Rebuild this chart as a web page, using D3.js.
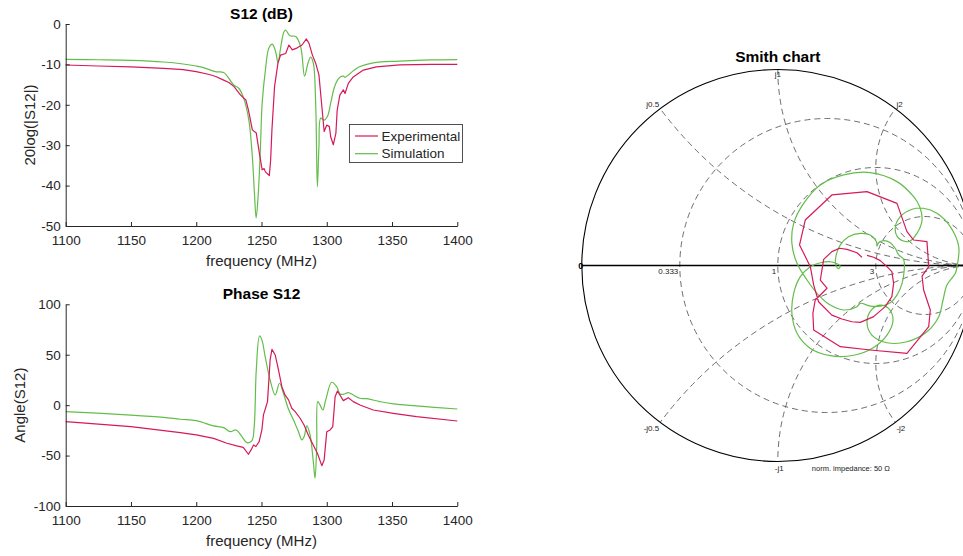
<!DOCTYPE html>
<html><head><meta charset="utf-8">
<script src="https://cdn.jsdelivr.net/npm/d3@7"></script>
<style>
body{margin:0;background:#fff}
svg{display:block}
text{font-family:"Liberation Sans",Arial,Helvetica,sans-serif}
</style>
</head><body>
<svg id="c" width="963" height="556"></svg>
<script>
// ---------------- data ----------------
const freqTicks = [1100, 1150, 1200, 1250, 1300, 1350, 1400];
const magTicks = [-50, -40, -30, -20, -10, 0];
const phaseTicks = [-100, -50, 0, 50, 100];
const seriesNames = ["Experimental", "Simulation"];
const seriesColors = ["#d6195a", "#63bd4a"];

// S12 magnitude (dB)
const expMagFreq = [1100,1125,1150,1175,1190,1200,1210,1215,1221,1225,1229,1234,1238,1240,1243,1246,1248,1250.5,1252,1253,1256,1257,1258,1260,1262.6,1264.6,1268.5,1271,1273.6,1277.4,1281,1284.4,1286.4,1289,1291.5,1294,1296,1298,1300,1302,1303,1305,1307,1308,1310,1312.7,1314,1316.5,1320,1328,1338,1356,1380,1400];
const expMag = [-10.15,-10.4,-10.6,-11,-11.3,-11.8,-12.5,-13,-13.9,-14.5,-15.5,-17.6,-18.8,-21.3,-26.2,-27,-31.2,-36.1,-35.8,-36.6,-37.5,-33.7,-26.2,-15.5,-9.7,-7.7,-7.3,-5.2,-6.4,-5.9,-5.2,-3.7,-4.8,-7.7,-9.7,-12.6,-19.6,-26.6,-25,-25.4,-27.9,-29.9,-27,-21.3,-17.6,-16.3,-17.2,-14.7,-13.2,-11.4,-10.6,-10.1,-10,-10];
const simMagFreq = [1100,1125,1150,1175,1190,1200,1205.6,1214.6,1221,1228.7,1232.6,1236.4,1240.3,1242.8,1244.6,1245.9,1247.4,1249.2,1250.5,1253,1255.6,1258.2,1260.8,1262.6,1264.6,1267.2,1268.5,1271.8,1276.2,1280,1283,1285.6,1287.7,1289.7,1291.5,1292.8,1294,1295.4,1298,1300.5,1303,1305.6,1308.2,1310.8,1312.7,1314,1320.3,1325,1335.6,1356,1380,1400];
const simMag = [-8.75,-8.85,-9.0,-9.4,-9.9,-10.4,-10.8,-11.8,-12,-15.1,-15.9,-18.4,-23.8,-32,-41.9,-48,-42.7,-30.4,-19.6,-11.4,-6,-5,-6.8,-9.6,-6,-1.9,-1.5,-2.9,-3.1,-5.6,-12.9,-9.7,-8.2,-9.7,-19.6,-40.3,-30.4,-23.3,-23.8,-22.9,-19.6,-15.9,-13.9,-13,-12.9,-13.2,-11.6,-10.6,-9.6,-9.2,-8.9,-8.8];

// S12 phase (deg)
const expPhFreq = [1100,1150,1187.8,1200,1213.3,1223.5,1231,1236,1240,1242,1243.9,1245.7,1248.2,1250.3,1251.5,1253.6,1254.6,1256.6,1258,1260.5,1263,1265.6,1268,1270.7,1273.2,1275.8,1279.6,1282.7,1286,1289.8,1292.9,1296.2,1298,1300,1302.6,1304.6,1306.4,1308.2,1312.7,1316.5,1320.3,1325.4,1335.6,1351,1368.8,1400];
const expPh = [-16.4,-21.3,-27.2,-29.5,-32.9,-37.8,-40.4,-41.8,-48.7,-44.4,-39.5,-41,-36.2,-24.6,-9.7,-0.8,3.5,44.8,55.4,49.8,34.9,18.3,10.1,5.2,-3.1,-6.4,-13,-20,-30,-40,-48,-60,-54.3,-26.3,-24.6,-21.3,8.4,14,4.5,7.4,3.5,0.2,-4.8,-8.1,-11.4,-15.7];
const simPhFreq = [1100,1150,1175,1187.8,1200,1213.3,1221,1226,1230.6,1235,1238.8,1242.6,1244.4,1246,1248.5,1250.3,1252.8,1256.6,1260.5,1263.8,1266.8,1270.7,1274.5,1278.3,1280.9,1282.7,1284.7,1287.2,1289.8,1291,1292.3,1293.1,1294.9,1297,1299.2,1303.8,1307.6,1310.2,1312.7,1316.5,1320.3,1325.4,1330.5,1340.7,1351,1368.8,1400];
const simPh = [-6.4,-9.8,-12.1,-14,-15.4,-20.6,-22.3,-26.3,-24.6,-31.2,-37.2,-35.2,-21.3,34.9,68.6,64.7,48.1,25,10.1,21.7,11.8,-4.1,-14.7,-26.3,-34.5,-31.2,-20.6,-29.5,-57.6,-72.5,-41.1,3.5,0,-4.8,5.2,22.7,18.3,11.1,10.7,12.4,10.1,6.8,6.4,3.5,1.2,-0.8,-3.8];

// Smith chart traces (reflection coefficient, real / imaginary)
const expGre = [0.429,0.404,0.353,0.315,0.276,0.234,0.217,0.251,0.191,0.179,0.183,0.319,0.472,0.659,0.770,0.778,0.744,0.736,0.770,0.761,0.693,0.659,0.608,0.455,0.276,0.140,0.111,0.166,0.183,0.208,0.276,0.327,0.378,0.421,0.489,0.548,0.582,0.591,0.582,0.557,0.523,0.489,0.455];
const expGim = [0.042,0.065,0.082,0.088,0.071,0.031,-0.074,-0.116,-0.176,-0.244,-0.329,-0.414,-0.431,-0.448,-0.312,-0.227,-0.125,-0.054,-0.006,0.122,0.130,0.173,0.317,0.377,0.360,0.232,0.105,-0.006,-0.099,-0.185,-0.253,-0.273,-0.287,-0.290,-0.261,-0.210,-0.159,-0.091,-0.031,-0.006,0.025,0.042,0.052];
const simGre = [0.914,0.923,0.880,0.812,0.744,0.685,0.625,0.599,0.617,0.668,0.710,0.736,0.724,0.693,0.608,0.472,0.336,0.217,0.132,0.081,0.072,0.098,0.149,0.208,0.268,0.336,0.404,0.421,0.472,0.523,0.574,0.608,0.634,0.645,0.642,0.617,0.599,0.574,0.540,0.514,0.506,0.503,0.472,0.421,0.361,0.319,0.298,0.295,0.309,0.319,0.276,0.217,0.166,0.115,0.081,0.072,0.098,0.166,0.268,0.387,0.489,0.557,0.588,0.565,0.523,0.480,0.455,0.480,0.557,0.659,0.761,0.821,0.843,0.863,0.906,0.914];
const simGim = [-0.006,0.096,0.198,0.266,0.292,0.287,0.249,0.190,0.139,0.122,0.164,0.232,0.300,0.351,0.428,0.474,0.462,0.411,0.317,0.215,0.113,0.011,-0.074,-0.151,-0.202,-0.227,-0.210,-0.193,-0.207,-0.207,-0.190,-0.151,-0.091,-0.023,0.031,0.054,0.088,0.116,0.127,0.116,0.099,0.122,0.156,0.164,0.147,0.105,0.054,0.008,-0.016,-0.003,0.018,0.014,-0.006,-0.057,-0.142,-0.244,-0.346,-0.423,-0.460,-0.458,-0.418,-0.355,-0.278,-0.219,-0.202,-0.224,-0.287,-0.355,-0.394,-0.389,-0.338,-0.261,-0.176,-0.099,-0.040,-0.006];

// Smith grid
const resistanceValues = [1/3, 1, 3];
const resistanceLabels = ["0.333", "1", "3"];
const reactanceValues = [0.5, 1, 2, -0.5, -1, -2];
const reactanceLabels = ["j0.5", "j1", "j2", "-j0.5", "-j1", "-j2"];

// ---------------- drawing ----------------
const svg = d3.select("#c");
const ink = "#262626";

const x = d3.scaleLinear().domain([1100, 1400]).range([65.7, 457.3]);
const yMag = d3.scaleLinear().domain([-50, 0]).range([226, 24]);
const yPh = d3.scaleLinear().domain([-100, 100]).range([506, 304.3]);

function axes(g, y, yt, xTitle, yTitle, title, yBase, yLabelX) {
  const ax = g.append("g").attr("transform", `translate(0,${y.range()[0]})`)
    .call(d3.axisBottom(x).tickValues(freqTicks).tickSizeInner(-4).tickSizeOuter(0).tickPadding(9).tickFormat(d3.format("d")));
  const ay = g.append("g").attr("transform", `translate(${x.range()[0]},0)`)
    .call(d3.axisLeft(y).tickValues(yt).tickSizeInner(-4).tickSizeOuter(0).tickPadding(5).tickFormat(d => String(d)));
  [ax, ay].forEach(a => {
    a.select(".domain").attr("stroke", ink).attr("stroke-width", 1);
    a.selectAll(".tick line").attr("stroke", ink).attr("stroke-width", 1);
    a.selectAll("text").attr("fill", ink).style("font-size", "13.5px");
  });
  g.append("text").attr("x", (x.range()[0] + x.range()[1]) / 2).attr("y", yBase + 248)
    .attr("text-anchor", "middle").attr("fill", ink).style("font-size", "15px").text(xTitle);
  g.append("text").attr("x", (x.range()[0] + x.range()[1]) / 2).attr("y", yBase + 0.5)
    .attr("text-anchor", "middle").attr("fill", "#000").style("font-size", "15.5px").style("font-weight", "bold").text(title);
  const mid = (y.range()[0] + y.range()[1]) / 2;
  g.append("text").attr("transform", `translate(${yLabelX},${mid}) rotate(-90)`).attr("dy", "0.35em")
    .attr("text-anchor", "middle").attr("fill", ink).style("font-size", "15px").text(yTitle);
}

function series(g, y, fx, fy, color, curve) {
  const line = d3.line().x(d => x(d[0])).y(d => y(d[1])).curve(curve);
  g.append("path").datum(d3.zip(fx, fy)).attr("d", line)
    .attr("fill", "none").attr("stroke", color).attr("stroke-width", 1.2).attr("stroke-linejoin", "round");
}

const gTop = svg.append("g");
series(gTop, yMag, simMagFreq, simMag, seriesColors[1], d3.curveCatmullRom.alpha(0.5));
series(gTop, yMag, expMagFreq, expMag, seriesColors[0], d3.curveLinear);
axes(gTop, yMag, magTicks, "frequency (MHz)", "20log(|S12|)", "S12 (dB)", 18, 30);

// legend
const lg = gTop.append("g");
lg.append("rect").attr("x", 349.5).attr("y", 124.5).attr("width", 113).attr("height", 38)
  .attr("fill", "#fff").attr("stroke", ink).attr("stroke-width", 0.8);
seriesNames.forEach((n, i) => {
  const yy = 136 + i * 17.7;
  lg.append("line").attr("x1", 355).attr("x2", 378).attr("y1", yy).attr("y2", yy)
    .attr("stroke", seriesColors[i]).attr("stroke-width", 1.2);
  lg.append("text").attr("x", 381.5).attr("y", yy).attr("dy", "0.35em").attr("fill", ink)
    .style("font-size", "13.5px").text(n);
});

const gBot = svg.append("g");
series(gBot, yPh, simPhFreq, simPh, seriesColors[1], d3.curveCatmullRom.alpha(0.5));
series(gBot, yPh, expPhFreq, expPh, seriesColors[0], d3.curveLinear);
axes(gBot, yPh, phaseTicks, "frequency (MHz)", "Angle(S12)", "Phase S12", 298, 20);

// ---------------- Smith chart ----------------
const R = 196, cx = 777.8, cy = 265.5;
const sx = d3.scaleLinear().domain([-1, 1]).range([cx - R, cx + R]);
const sy = d3.scaleLinear().domain([-1, 1]).range([cy + R, cy - R]);
const gS = svg.append("g");
const defs = svg.append("defs");
defs.append("clipPath").attr("id", "unit").append("circle")
  .attr("cx", sx(0)).attr("cy", sy(0)).attr("r", sx(1) - sx(0));

const grid = gS.append("g").attr("clip-path", "url(#unit)")
  .attr("fill", "none").attr("stroke", "#4a4a4a").attr("stroke-width", 0.8).attr("stroke-dasharray", "6,4");
resistanceValues.forEach(r => {
  grid.append("circle").attr("cx", sx(r / (r + 1))).attr("cy", sy(0)).attr("r", (sx(1) - sx(0)) / (r + 1));
});
reactanceValues.forEach(v => {
  grid.append("circle").attr("cx", sx(1)).attr("cy", sy(1 / v)).attr("r", Math.abs(sy(0) - sy(1 / v)));
});

// outer circle and real axis
gS.append("circle").attr("cx", sx(0)).attr("cy", sy(0)).attr("r", sx(1) - sx(0))
  .attr("fill", "none").attr("stroke", "#000").attr("stroke-width", 1.1);
gS.append("line").attr("x1", sx(-1)).attr("x2", sx(1)).attr("y1", sy(0)).attr("y2", sy(0))
  .attr("stroke", "#000").attr("stroke-width", 1.4);

// traces
const sLineLin = d3.line().x(d => sx(d[0])).y(d => sy(d[1]));
const sLineSm = d3.line().x(d => sx(d[0])).y(d => sy(d[1])).curve(d3.curveCatmullRom.alpha(0.5));
gS.append("path").datum(d3.zip(simGre, simGim)).attr("d", sLineSm)
  .attr("fill", "none").attr("stroke", seriesColors[1]).attr("stroke-width", 1.2);
gS.append("path").datum(d3.zip(expGre, expGim)).attr("d", sLineLin)
  .attr("fill", "none").attr("stroke", seriesColors[0]).attr("stroke-width", 1.2).attr("stroke-linejoin", "round");

// labels
const lab = gS.append("g").attr("fill", "#222").style("font-size", "8px");
resistanceValues.forEach((r, i) => {
  const g0 = (r - 1) / (r + 1);
  lab.append("text").attr("x", sx(g0) - 1.5).attr("y", sy(0) + 8).attr("text-anchor", "end").text(resistanceLabels[i]);
});
reactanceValues.forEach((v, i) => {
  const re = (v * v - 1) / (v * v + 1), im = 2 * v / (v * v + 1);
  const px = sx(re), py = sy(im);
  let anchor = "middle", dx = 0, dy = 0;
  if (Math.abs(re) < 1e-6) { anchor = "start"; dx = -3; dy = v > 0 ? 7 : 9; }
  else if (re < 0) { anchor = "end"; dx = -1; dy = v > 0 ? -2 : 9; }
  else { anchor = "start"; dx = 1; dy = v > 0 ? -2 : 9; }
  lab.append("text").attr("x", px + dx).attr("y", py + dy).attr("text-anchor", anchor).text(reactanceLabels[i]);
});
gS.append("text").attr("x", sx(-1) + 1.5).attr("y", sy(0) + 3.2).attr("text-anchor", "end")
  .attr("fill", "#000").style("font-size", "9px").style("font-weight", "bold").text("0");
gS.append("text").attr("x", sx(0) + 34).attr("y", sy(-1) + 9).attr("fill", "#222")
  .style("font-size", "7.5px").text("norm. impedance: 50 \u03A9");
gS.append("text").attr("x", sx(0)).attr("y", 62).attr("text-anchor", "middle").attr("fill", "#000")
  .style("font-size", "15.5px").style("font-weight", "bold").text("Smith chart");
</script>
</body></html>
